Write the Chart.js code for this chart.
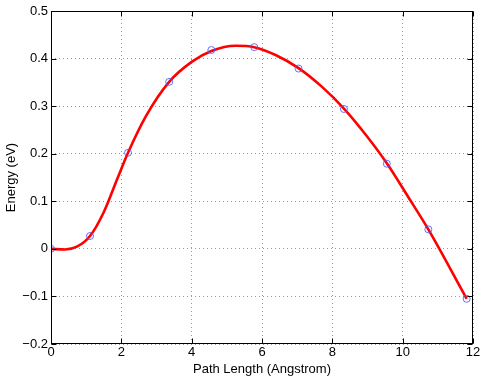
<!DOCTYPE html>
<html>
<head>
<meta charset="utf-8">
<script src="https://cdn.jsdelivr.net/npm/chart.js@4/dist/chart.umd.min.js"></script>
<style>
  html, body { margin: 0; padding: 0; background: #fff; }
</style>
</head>
<body>
<canvas id="neb-chart" width="485" height="379"></canvas>
<script>
// image points along the path
var pathLength = [0, 1.11, 2.19, 3.36, 4.56, 5.78, 7.04, 8.33, 9.55, 10.73, 11.82];
var energy = [0, 0.027, 0.202, 0.351, 0.418, 0.424, 0.379, 0.294, 0.179, 0.041, -0.105];

// fitted curve
var fitLength = [0, 0.4, 0.75, 1.11, 1.5, 1.9, 2.19, 2.7, 3.36, 4.0, 4.56, 5.25, 5.78,
    6.4, 7.04, 7.7, 8.33, 8.95, 9.55, 10.15, 10.73, 11.82];
var fitEnergy = [0, -0.0015, 0.005, 0.027, 0.077, 0.15, 0.202, 0.279, 0.351, 0.393, 0.416, 0.427, 0.424,
    0.407, 0.38, 0.341, 0.295, 0.24, 0.18, 0.11, 0.041, -0.105];

var xTicks = [0, 2, 4, 6, 8, 10, 12];
var yTicks = [-0.2, -0.1, 0, 0.1, 0.2, 0.3, 0.4, 0.5];

function pairs(xs, ys) {
    return xs.map(function (x, i) { return {x: x, y: ys[i]}; });
}

var font = {family: '"Liberation Sans", Arial, Helvetica, sans-serif', size: 13};

// black box with inward ticks, matlab style
var axesBox = {
    id: 'axesBox',
    afterDatasetsDraw: function (chart) {
        var c = chart.ctx, a = chart.chartArea;
        var xs = chart.scales.x, ys = chart.scales.y;
        var L = Math.round(a.left) + 0.5, R = Math.round(a.right) - 0.5;
        var T = Math.round(a.top) + 0.5, B = Math.round(a.bottom) - 0.5;
        c.save();
        c.strokeStyle = '#000';
        c.lineWidth = 1;
        c.beginPath();
        xTicks.forEach(function (v) {
            var p = Math.round(xs.getPixelForValue(v)) + 0.5;
            c.moveTo(p, B); c.lineTo(p, B - 5);
            c.moveTo(p, T); c.lineTo(p, T + 5);
        });
        yTicks.forEach(function (v) {
            var p = Math.round(ys.getPixelForValue(v)) + 0.5;
            c.moveTo(L, p); c.lineTo(L + 5, p);
            c.moveTo(R, p); c.lineTo(R - 5, p);
        });
        c.stroke();
        c.strokeRect(L, T, R - L, B - T);
        c.restore();
    }
};

var ctx = document.getElementById('neb-chart').getContext('2d');
var nebChart = new Chart(ctx, {
    type: 'line',
    data: {
        datasets: [
            {
                label: 'images',
                data: pairs(pathLength, energy),
                showLine: false,
                pointStyle: 'circle',
                pointRadius: 3.5,
                pointBorderWidth: 1,
                pointBorderColor: 'rgba(70, 90, 255, 0.85)',
                pointBackgroundColor: 'rgba(0,0,0,0)',
                order: 0
            },
            {
                label: 'fit',
                data: pairs(fitLength, fitEnergy),
                borderColor: 'rgb(255, 0, 0)',
                borderWidth: 2.6,
                pointRadius: 0,
                fill: false,
                cubicInterpolationMode: 'monotone',
                order: 1
            }
        ]
    },
    options: {
        responsive: false,
        animation: false,
        layout: {padding: {top: 11, right: 12, left: 0, bottom: 0}},
        plugins: {
            legend: {display: false},
            tooltip: {enabled: false}
        },
        scales: {
            x: {
                type: 'linear',
                min: 0,
                max: 12,
                afterBuildTicks: function (s) { s.ticks = xTicks.map(function (v) { return {value: v}; }); },
                afterFit: function (s) { s.height = 35; },
                ticks: {color: '#000', font: font, padding: 1, maxRotation: 0},
                grid: {color: 'rgba(0,0,0,0.4)', drawTicks: false},
                border: {display: false, dash: [1, 3]},
                title: {display: true, text: 'Path Length (Angstrom)', color: '#000', font: font, padding: {top: 0, bottom: 2}}
            },
            y: {
                min: -0.2,
                max: 0.5,
                afterBuildTicks: function (s) { s.ticks = yTicks.map(function (v) { return {value: v}; }); },
                afterFit: function (s) { s.width = 51; },
                ticks: {
                    color: '#000',
                    font: font,
                    padding: 3,
                    callback: function (v) { return String(Number(v.toFixed(1))).replace('-', '\u2212'); }
                },
                grid: {color: 'rgba(0,0,0,0.4)', drawTicks: false},
                border: {display: false, dash: [1, 3]},
                title: {display: true, text: 'Energy (eV)', color: '#000', font: font, padding: {top: 4, bottom: 0}}
            }
        }
    },
    plugins: [axesBox]
});
</script>
</body>
</html>
